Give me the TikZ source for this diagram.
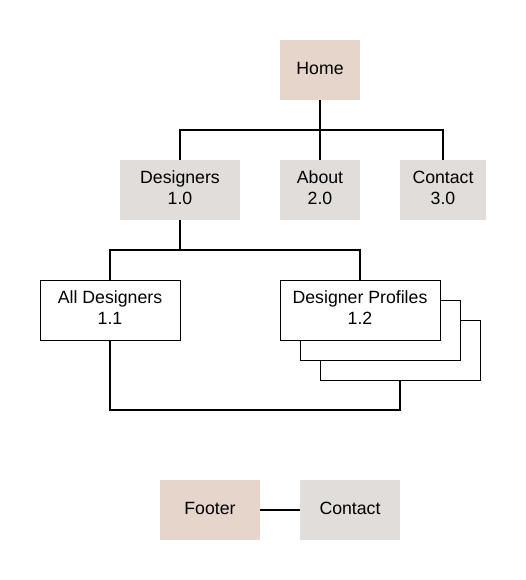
\documentclass[tikz,border=0pt]{standalone}
\usepackage{fontspec}
\setmainfont{Liberation Sans}
\definecolor{warm}{HTML}{E5D5CB}
\definecolor{cool}{HTML}{E0DDDA}
\newcommand\boxtext[1]{\raisebox{0.2pt}[\height][\depth]{\begin{tabular}{@{}c@{}}#1\end{tabular}}}
\begin{document}
\begin{tikzpicture}[x=1pt,y=-1pt,
  box/.style={rectangle,inner sep=0pt,align=center,font=\fontsize{17.7}{21.5}\selectfont},
  warmbox/.style={box,fill=warm},
  coolbox/.style={box,fill=cool},
  pagebox/.style={box,draw=black,line width=1pt,fill=white},
  link/.style={draw=black,line width=2pt}]
\useasboundingbox[fill=white] (0,0) rectangle (526,580);
% top level
\node[warmbox,minimum width=80pt,minimum height=60pt] (home) at (320,70) {\boxtext{Home}};
\node[coolbox,minimum width=120pt,minimum height=60pt] (designers) at (180,190) {\boxtext{Designers\\1.0}};
\node[coolbox,minimum width=80pt,minimum height=60pt] (about) at (320,190) {\boxtext{About\\2.0}};
\node[coolbox,minimum width=86pt,minimum height=60pt] (contact) at (443,190) {\boxtext{Contact\\3.0}};
% second level
\node[pagebox,minimum width=140pt,minimum height=60pt] (all) at (110,310) {\boxtext{All Designers\\1.1}};
\node[pagebox,minimum width=160pt,minimum height=60pt] (page3) at (400,350) {};
\node[pagebox,minimum width=160pt,minimum height=60pt] (page2) at (380,330) {};
\node[pagebox,minimum width=160pt,minimum height=60pt] (prof) at (360,310) {\boxtext{Designer Profiles\\1.2}};
% footer
\node[warmbox,minimum width=100pt,minimum height=60pt] (footer) at (210,510) {\boxtext{Footer}};
\node[coolbox,minimum width=100pt,minimum height=60pt] (fcontact) at (350,510) {\boxtext{Contact}};
% connectors
\draw[link] (home.south) -- (about.north);
\draw[link] (designers.north) -- ++(0,-30) -| (contact.north);
\draw[link] (designers.south) -- ++(0,30) coordinate (j);
\draw[link] (all.north) |- (j) -| (prof.north);
\draw[link] (all.south) -- ++(0,69) -| (page3.south);
\draw[link] (footer.east) -- (fcontact.west);
\end{tikzpicture}
\end{document}
